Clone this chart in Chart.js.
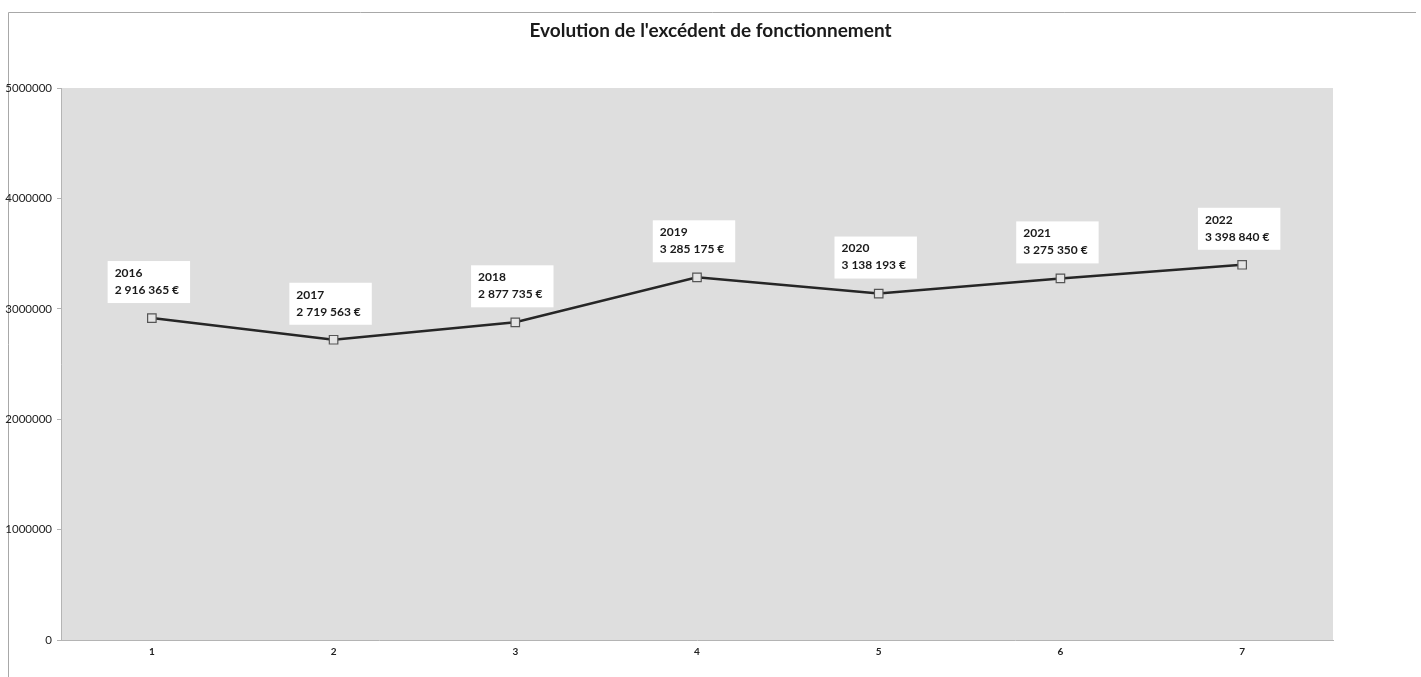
<!DOCTYPE html>
<html lang="fr">
<head>
<meta charset="utf-8">
<title>Evolution de l'excédent de fonctionnement</title>
<script src="https://cdn.jsdelivr.net/npm/chart.js@4/dist/chart.umd.min.js"></script>
<style>
  html, body { margin: 0; padding: 0; background: #ffffff; }
  #wrap { position: relative; width: 1421px; height: 677px; }
  canvas { display: block; }
</style>
</head>
<body>
<div id="wrap"><canvas id="chart" width="1421" height="677"></canvas></div>
<script>
// Excédent de fonctionnement par exercice
const categories = ['1', '2', '3', '4', '5', '6', '7'];
const years = ['2016', '2017', '2018', '2019', '2020', '2021', '2022'];
const excedent = [2916365, 2719563, 2877735, 3285175, 3138193, 3275350, 3398840];
const yTicks = [0, 1000000, 2000000, 3000000, 4000000, 5000000];

const FONT = 'Lato, "Open Sans", "Liberation Sans", sans-serif';

function formatEuro(v) {
  return String(Math.round(v)).replace(/\B(?=(\d{3})+(?!\d))/g, ' ') + ' €';
}

// Grey plot background and thin outer frame
const framePlugin = {
  id: 'frame',
  beforeDraw(chart) {
    const { ctx, chartArea: a } = chart;
    ctx.save();
    ctx.fillStyle = '#ffffff';
    ctx.fillRect(0, 0, chart.width, chart.height);
    ctx.fillStyle = '#dedede';
    ctx.fillRect(a.left, a.top, a.right - a.left, a.bottom - a.top);
    ctx.strokeStyle = '#a8a8a8';
    ctx.lineWidth = 1;
    ctx.beginPath();
    ctx.moveTo(8.5, 677);
    ctx.lineTo(8.5, 12.5);
    ctx.lineTo(1416, 12.5);
    ctx.stroke();
    ctx.restore();
  }
};

// White boxes with year and amount above each point
const valueLabels = {
  id: 'valueLabels',
  afterDatasetsDraw(chart) {
    const { ctx } = chart;
    const meta = chart.getDatasetMeta(0);
    ctx.save();
    ctx.font = 'bold 12px ' + FONT;
    ctx.textBaseline = 'middle';
    ctx.textAlign = 'left';
    meta.data.forEach((pt, i) => {
      const lines = [years[i], formatEuro(excedent[i])];
      const tw = Math.max(...lines.map(t => ctx.measureText(t).width));
      const w = tw + 18;
      const h = 42;
      const cx = pt.x - 3;
      const bottom = pt.y - 15;
      const left = cx - w / 2;
      const top = bottom - h;
      ctx.fillStyle = '#ffffff';
      ctx.fillRect(left, top, w, h);
      ctx.fillStyle = '#1a1a1a';
      ctx.fillText(lines[0], left + 7, top + 12);
      ctx.fillText(lines[1], left + 7, top + 29);
    });
    ctx.restore();
  }
};

new Chart(document.getElementById('chart'), {
  type: 'line',
  data: {
    labels: categories,
    datasets: [{
      data: excedent,
      borderColor: '#262626',
      borderWidth: 2.5,
      tension: 0,
      pointStyle: 'rect',
      pointRadius: 6,
      pointBackgroundColor: '#e4e4e4',
      pointBorderColor: '#555555',
      pointBorderWidth: 1.2
    }]
  },
  options: {
    responsive: false,
    animation: false,
    layout: { padding: 0 },
    plugins: {
      legend: { display: false },
      tooltip: { enabled: false },
      title: {
        display: true,
        text: "Evolution de l'excédent de fonctionnement",
        color: '#1a1a1a',
        font: { family: FONT, size: 19, weight: 'bold', lineHeight: 1.2 },
        padding: { top: 19.6, bottom: 45.6 }
      }
    },
    scales: {
      x: {
        offset: true,
        grid: { display: false, drawTicks: false },
        border: { display: true, color: '#b4b4b4', width: 1 },
        ticks: {
          color: '#222222',
          padding: 6,
          font: { family: FONT, size: 10, weight: 'bold' }
        },
        afterFit(scale) { scale.height = 37; }
      },
      y: {
        min: 0,
        max: 5000000,
        afterBuildTicks(scale) { scale.ticks = yTicks.map(v => ({ value: v })); },
        grid: { drawOnChartArea: false, drawTicks: true, tickLength: 4, color: '#b4b4b4' },
        border: { display: true, color: '#b4b4b4', width: 1 },
        ticks: {
          color: '#222222',
          padding: 5,
          font: { family: FONT, size: 11.5 },
          callback: v => String(v)
        },
        afterFit(scale) { scale.width = 61; }
      },
      // empty right-hand margin so the title stays centred on the page
      yRight: {
        position: 'right',
        display: true,
        min: 0,
        max: 5000000,
        grid: { display: false, drawTicks: false },
        border: { display: false },
        ticks: { display: false },
        afterFit(scale) { scale.width = 88; }
      }
    }
  },
  plugins: [framePlugin, valueLabels]
});
</script>
</body>
</html>
